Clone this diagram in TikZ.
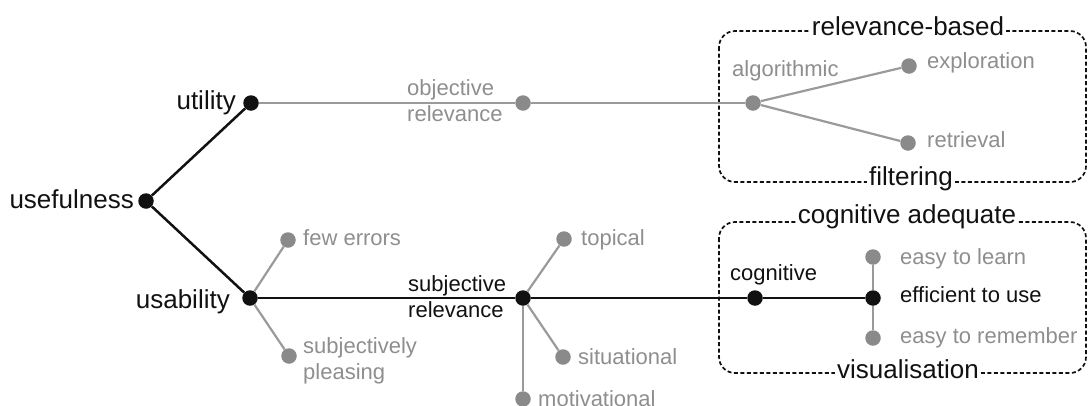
\documentclass[tikz,border=0pt]{standalone}
\usepackage{fontspec}
\setmainfont{Liberation Sans}
\definecolor{dotgrey}{HTML}{8A8A8A}
\definecolor{linegrey}{HTML}{9A9A9A}
\definecolor{textgrey}{HTML}{8E8E8E}
\definecolor{inkblack}{HTML}{111111}
\tikzset{
  blackdot/.style={circle, fill=inkblack, inner sep=0pt, minimum size=15.5pt},
  greydot/.style={blackdot, fill=dotgrey},
  bline/.style={draw=inkblack, line width=2.5pt},
  gline/.style={draw=linegrey, line width=2.2pt},
  bigtext/.style={font=\fontsize{26}{30}\selectfont, text=inkblack, inner sep=0pt},
  smalltext/.style={font=\fontsize{22}{25.5}\selectfont, text=inkblack, inner sep=0pt, align=left},
  greytext/.style={smalltext, text=textgrey},
  groupbox/.style={draw=inkblack, line width=1.7pt, dash pattern=on 4pt off 2.5pt, rounded corners=16pt},
  boxtitle/.style={bigtext, fill=white, inner xsep=2pt, inner ysep=1pt}
}
\begin{document}
\begin{tikzpicture}[x=1pt, y=-1pt]
  \useasboundingbox (0,0) rectangle (1088,405);

  % dashed group frames
  \draw[groupbox] (719,31) rectangle (1086,182);
  \draw[groupbox] (719,222) rectangle (1086,373);
  \node[boxtitle, anchor=base] (tRel) at (908,35) {relevance-based};
  \node[boxtitle, anchor=base] (tFil) at (911,185) {filtering};
  \node[boxtitle, anchor=base] (tCog) at (907,223) {cognitive adequate};
  \node[boxtitle, anchor=base] (tVis) at (908,378) {visualisation};

  % tree nodes
  \node[blackdot] (usefulness) at (146,201) {};
  \node[blackdot] (utility) at (251,103) {};
  \node[blackdot] (usability) at (250,298) {};
  \node[greydot] (objective) at (523,103) {};
  \node[greydot] (algorithmic) at (753,103) {};
  \node[greydot] (exploration) at (909,66) {};
  \node[greydot] (retrieval) at (908,143) {};
  \node[greydot] (fewerrors) at (288,240) {};
  \node[greydot] (pleasing) at (289,356) {};
  \node[blackdot] (subjective) at (523,298) {};
  \node[greydot] (topical) at (564,239) {};
  \node[greydot] (situational) at (563,357) {};
  \node[greydot] (motivational) at (523,399) {};
  \node[blackdot] (cognitive) at (755,298) {};
  \node[blackdot] (efficient) at (873,298) {};
  \node[greydot] (learn) at (873,257) {};
  \node[greydot] (remember) at (873,338) {};

  % connectors
  \draw[bline] (usefulness) -- (utility);
  \draw[bline] (usefulness) -- (usability);
  \draw[bline] (usability) -- (subjective);
  \draw[bline] (subjective) -- (cognitive);
  \draw[bline] (cognitive) -- (efficient);
  \draw[gline] (utility) -- (objective);
  \draw[gline] (objective) -- (algorithmic);
  \draw[gline] (algorithmic) -- (exploration);
  \draw[gline] (algorithmic) -- (retrieval);
  \draw[gline] (usability) -- (fewerrors);
  \draw[gline] (usability) -- (pleasing);
  \draw[gline] (subjective) -- (topical);
  \draw[gline] (subjective) -- (situational);
  \draw[gline] (subjective) -- (motivational);
  \draw[gline] (efficient) -- (learn);
  \draw[gline] (efficient) -- (remember);

  % labels (two-line labels are placed by the baseline of their last line)
  \node[bigtext, anchor=base east] (lUsefulness) at (134,208) {usefulness};
  \node[bigtext, anchor=base east] (lUtility) at (236,109) {utility};
  \node[bigtext, anchor=base east] (lUsability) at (230,308) {usability};
  \node[greytext, anchor=base west] (lObjective) at (407,121) {objective\\relevance};
  \node[greytext, anchor=base west] (lAlgorithmic) at (732,76) {algorithmic};
  \node[greytext, anchor=base west] (lExploration) at (927,68) {exploration};
  \node[greytext, anchor=base west] (lRetrieval) at (927,147) {retrieval};
  \node[greytext, anchor=base west] (lFewerrors) at (303,245) {few errors};
  \node[greytext, anchor=base west] (lPleasing) at (303,379) {subjectively\\pleasing};
  \node[smalltext, anchor=base west] (lSubjective) at (408,317) {subjective\\relevance};
  \node[greytext, anchor=base west] (lTopical) at (581,245) {topical};
  \node[greytext, anchor=base west] (lSituational) at (578,364) {situational};
  \node[greytext, anchor=base west] (lMotivational) at (538,406) {motivational};
  \node[smalltext, anchor=base west] (lCognitive) at (730,280) {cognitive};
  \node[greytext, anchor=base west] (lLearn) at (900,264) {easy to learn};
  \node[smalltext, anchor=base west] (lEfficient) at (900,302) {efficient to use};
  \node[greytext, anchor=base west] (lRemember) at (900,343) {easy to remember};
\end{tikzpicture}
\end{document}
